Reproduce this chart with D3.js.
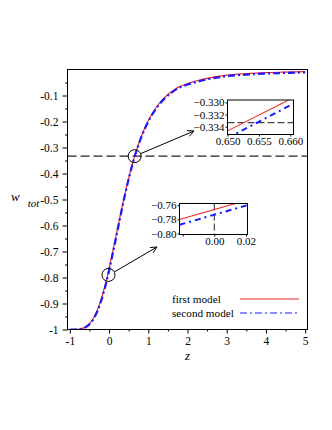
<!DOCTYPE html>
<html><head><meta charset="utf-8">
<script src="https://cdn.jsdelivr.net/npm/d3@7"></script>
<style>
body{margin:0;background:#fff}
svg{display:block}
text{font-family:"Liberation Serif","Times New Roman",serif;fill:#000}
</style>
</head><body>
<svg id="c" width="332" height="430"></svg>
<script>
// ---- data ----
const zGrid = [-1,-0.9,-0.8,-0.7,-0.6,-0.5,-0.4,-0.3,-0.2,-0.1,0,0.1,0.2,0.3,0.4,0.5,0.6,0.7,0.8,0.9,1.0,1.2,1.4,1.6,1.8,2.0,2.5,3.0,3.5,4.0,4.5,5.0];
const wFirst = [-1,-1,-0.9993,-0.9966,-0.9902,-0.9777,-0.9568,-0.9256,-0.883,-0.8292,-0.766,-0.6961,-0.6233,-0.5508,-0.4816,-0.4178,-0.3605,-0.31,-0.2661,-0.2285,-0.1965,-0.1461,-0.11,-0.0845,-0.066,-0.054,-0.034,-0.022,-0.016,-0.012,-0.01,-0.008];
const wSecond = [-1,-1,-0.9994,-0.997,-0.9912,-0.9796,-0.96,-0.9302,-0.8889,-0.8362,-0.7735,-0.7036,-0.6301,-0.5566,-0.4862,-0.421,-0.3625,-0.312,-0.269,-0.232,-0.2,-0.15,-0.114,-0.088,-0.069,-0.058,-0.038,-0.026,-0.0195,-0.0155,-0.013,-0.011];
const seriesNames = ["first model","second model"];
const xTicks = [-1,0,1,2,3,4,5];
const xTickLabels = ["-1","0","1","2","3","4","5"];
const xMinor = [-0.5,0.5,1.5,2.5,3.5,4.5];
const yTicks = [-1,-0.9,-0.8,-0.7,-0.6,-0.5,-0.4,-0.3,-0.2,-0.1];
const yTickLabels = ["-1","-0.9","-0.8","-0.7","-0.6","-0.5","-0.4","-0.3","-0.2","-0.1"];
const yMinor = [-0.95,-0.85,-0.75,-0.65,-0.55,-0.45,-0.35,-0.25,-0.15,-0.05];
const wRef = -1/3;
// inset 1 (around w = -1/3)
const in1Z = [0.650, 0.6605];
const in1First = [-0.3347, -0.3292];
const in1Second = [-0.3359, -0.3302];
const in1XTicks = [0.650, 0.655, 0.660];
const in1XLabels = ["0.650","0.655","0.660"];
const in1YTicks = [-0.330, -0.332, -0.334];
const in1YLabels = ["\u22120.330","\u22120.332","\u22120.334"];
// inset 2 (around z = 0)
const in2Z = [-0.022, 0.021];
const in2First = [-0.7803, -0.7527];
const in2Second = [-0.7877, -0.7599];
const in2XTicks = [-0.02, 0.00, 0.02];
const in2XLabels = ["","0.00","0.02"];
const in2YTicks = [-0.76, -0.78, -0.80];
const in2YLabels = ["\u22120.76","\u22120.78","\u22120.80"];
// circles marking zoomed spots
const marks = [{z:0.652, w:-0.3333}, {z:-0.015, w:-0.79}];

// ---- drawing ----
const svg = d3.select("#c");
const L = 67.5, R = 307.5, T = 69.5, B = 329.5;
const x = d3.scaleLinear().domain([-1.06, 5.06]).range([L, R]);
const y = d3.scaleLinear().domain([-1, 0]).range([B, T]);

const defs = svg.append("defs");
defs.append("clipPath").attr("id","clipMain").append("rect")
  .attr("x",L).attr("y",T).attr("width",R-L).attr("height",B-T);

const RED = "#f0262a", BLUE = "#1a1aff";
const ddash = "7,3,2,3";

// dashed reference line
svg.append("line").attr("x1",L).attr("x2",R).attr("y1",y(wRef)).attr("y2",y(wRef))
  .attr("stroke","#222").attr("stroke-width",1.1).attr("stroke-dasharray","9,4");

const line = d3.line().curve(d3.curveMonotoneX);
const ptsF = zGrid.map((z,i)=>[x(z), y(wFirst[i])]);
const ptsS = zGrid.map((z,i)=>[x(z), y(wSecond[i])]);
const gC = svg.append("g").attr("clip-path","url(#clipMain)");
gC.append("path").attr("d", line(ptsF)).attr("fill","none").style("stroke",RED).attr("stroke-width",1.2);
gC.append("path").attr("d", line(ptsS)).attr("fill","none").style("stroke",BLUE).attr("stroke-width",2.2).attr("stroke-dasharray",ddash);

// frame
svg.append("rect").attr("x",L).attr("y",T).attr("width",R-L).attr("height",B-T)
  .attr("fill","none").attr("stroke","#000").attr("stroke-width",1);

// axes
const xa = svg.append("g").attr("transform",`translate(0,${B})`)
  .call(d3.axisBottom(x).tickValues(xTicks).tickSize(4).tickPadding(3).tickFormat((d,i)=>xTickLabels[i]));
xa.select(".domain").remove();
xa.selectAll("text").attr("font-size",11.5).attr("font-family","Liberation Serif");
const xm = svg.append("g").attr("transform",`translate(0,${B})`)
  .call(d3.axisBottom(x).tickValues(xMinor).tickSize(2).tickFormat(""));
xm.select(".domain").remove();

const ya = svg.append("g").attr("transform",`translate(${L},0)`)
  .call(d3.axisLeft(y).tickValues(yTicks).tickSize(5).tickPadding(4).tickFormat((d,i)=>yTickLabels[i]));
ya.select(".domain").remove();
ya.selectAll("text").attr("font-size",11.5).attr("font-family","Liberation Serif");
const ym = svg.append("g").attr("transform",`translate(${L},0)`)
  .call(d3.axisLeft(y).tickValues(yMinor).tickSize(2.5).tickFormat(""));
ym.select(".domain").remove();

// axis titles
svg.append("text").attr("x",(L+R)/2).attr("y",360).attr("text-anchor","middle")
  .attr("font-size",13).attr("font-style","italic").text("z");
const wt = svg.append("text").attr("x",11).attr("y",201).attr("font-size",13).attr("font-style","italic");
wt.append("tspan").text("w");
wt.append("tspan").attr("dx",8).attr("dy",6).attr("font-size",11).text("tot");

// circles and arrows
marks.forEach(m=>{
  svg.append("circle").attr("cx",x(m.z)).attr("cy",y(m.w)).attr("r",6.5)
    .attr("fill","none").attr("stroke","#000").attr("stroke-width",1);
});
function arrow(x1,y1,x2,y2){
  svg.append("line").attr("x1",x1).attr("y1",y1).attr("x2",x2).attr("y2",y2)
    .attr("stroke","#000").attr("stroke-width",1);
  const a = Math.atan2(y2-y1,x2-x1), s=7, h=0.45;
  const p = [[x2-s*Math.cos(a-h), y2-s*Math.sin(a-h)],[x2,y2],[x2-s*Math.cos(a+h), y2-s*Math.sin(a+h)]];
  svg.append("path").attr("d",d3.line()(p)).attr("fill","none").attr("stroke","#000").attr("stroke-width",1);
}
arrow(x(marks[0].z)+6, y(marks[0].w)-2.5, 194, 131);
arrow(x(marks[1].z)+6, y(marks[1].w)-3, 157, 247);

// insets
function inset(id, box, xd, yd, zs, wf, ws, xt, xl, yt, yl, refH, refV){
  const ix = d3.scaleLinear().domain(xd).range([box.x0, box.x1]);
  const iy = d3.scaleLinear().domain(yd).range([box.y1, box.y0]);
  svg.append("rect").attr("x",box.x0).attr("y",box.y0).attr("width",box.x1-box.x0).attr("height",box.y1-box.y0).attr("fill","#fff");
  defs.append("clipPath").attr("id",id).append("rect")
    .attr("x",box.x0).attr("y",box.y0).attr("width",box.x1-box.x0).attr("height",box.y1-box.y0);
  const g = svg.append("g").attr("clip-path",`url(#${id})`);
  if(refH!==undefined) g.append("line").attr("x1",box.x0).attr("x2",box.x1).attr("y1",iy(refH)).attr("y2",iy(refH))
    .attr("stroke","#444").attr("stroke-width",1.1).attr("stroke-dasharray","7,3");
  if(refV!==undefined) g.append("line").attr("x1",ix(refV)).attr("x2",ix(refV)).attr("y1",box.y0).attr("y2",box.y1)
    .attr("stroke","#222").attr("stroke-width",1).attr("stroke-dasharray","7,3");
  g.append("path").attr("d",d3.line()(zs.map((z,i)=>[ix(z),iy(wf[i])]))).attr("fill","none").style("stroke",RED).attr("stroke-width",1.1);
  g.append("path").attr("d",d3.line()(zs.map((z,i)=>[ix(z),iy(ws[i])]))).attr("fill","none").style("stroke",BLUE).attr("stroke-width",2).attr("stroke-dasharray","6,4,2,4");
  svg.append("rect").attr("x",box.x0).attr("y",box.y0).attr("width",box.x1-box.x0).attr("height",box.y1-box.y0)
    .attr("fill","none").attr("stroke","#000").attr("stroke-width",1);
  const ax = svg.append("g").attr("transform",`translate(0,${box.y1})`)
    .call(d3.axisBottom(ix).tickValues(xt).tickSize(2).tickPadding(1).tickFormat((d,i)=>xl[i]));
  ax.select(".domain").remove();
  ax.selectAll("text").attr("font-size",11).attr("font-family","Liberation Serif");
  const ay = svg.append("g").attr("transform",`translate(${box.x0},0)`)
    .call(d3.axisLeft(iy).tickValues(yt).tickSize(2).tickPadding(1).tickFormat((d,i)=>yl[i]));
  ay.select(".domain").remove();
  ay.selectAll("text").attr("font-size",11).attr("font-family","Liberation Serif");
}
inset("clipI1", {x0:227.5,x1:293.5,y0:100,y1:134.5}, [0.650,0.6605], [-0.3353,-0.3296],
  in1Z, in1First, in1Second, in1XTicks, in1XLabels, in1YTicks, in1YLabels, wRef, undefined);
inset("clipI2", {x0:179.5,x1:247.5,y0:203.5,y1:234.5}, [-0.022,0.021], [-0.8014,-0.7576],
  in2Z, in2First, in2Second, in2XTicks, in2XLabels, in2YTicks, in2YLabels, undefined, 0);

// legend
const legendColors = [RED, BLUE];
const legendDash = ["none", "7,3,2,3"];
const lg = svg.append("g");
seriesNames.forEach((name,i)=>{
  const yy = 299 + i*14;
  lg.append("text").attr("x",172).attr("y",yy+3.5).attr("font-size",11.2).text(name);
  lg.append("path").attr("d", `M240,${yy}H299`)
    .style("stroke", legendColors[i]).style("stroke-width","1.2px").style("fill","none")
    .style("stroke-dasharray", legendDash[i]);
});
</script>
</body></html>
